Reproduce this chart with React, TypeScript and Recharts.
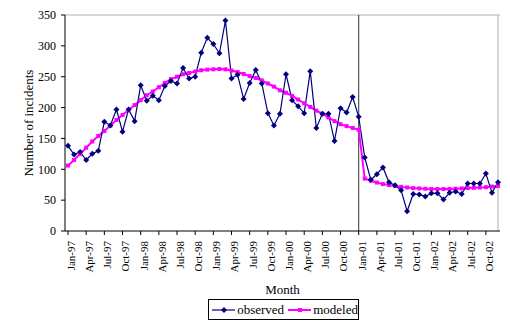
import React from 'react';
import {
  LineChart,
  Line,
  XAxis,
  YAxis,
  ReferenceLine,
} from 'recharts';

const MONTHS = ['Jan', 'Feb', 'Mar', 'Apr', 'May', 'Jun', 'Jul', 'Aug', 'Sep', 'Oct', 'Nov', 'Dec'];
const YEARS = ['97', '98', '99', '00', '01', '02'];

// monthly counts, Jan-97 .. Dec-02
const observed = [
  138, 124, 128, 115, 125, 130, 177, 171, 197, 161, 197, 178,
  236, 211, 219, 212, 235, 243, 239, 264, 247, 250, 289, 313,
  303, 288, 341, 247, 253, 214, 240, 261, 239, 191, 171, 190,
  254, 212, 202, 191, 259, 167, 190, 190, 146, 199, 192, 217,
  185, 119, 83, 92, 103, 79, 74, 66, 32, 60, 59, 56,
  61, 61, 51, 62, 64, 60, 77, 77, 77, 93, 62, 79,
];

const modeled = [
  106, 115, 125, 135, 145, 154, 162, 171, 180, 188, 196, 204,
  212, 220, 226, 233, 240, 246, 250, 254, 256, 258.5, 260.5, 261.5,
  262, 262.5, 262, 260, 257.5, 254.5, 251, 248, 244, 239, 234, 228,
  224, 219, 213, 207, 201, 195, 190, 184, 178, 173, 170, 167,
  164, 85, 81.5, 78.5, 76, 74.5, 73, 71.5, 70.5, 69.5, 69, 68.5,
  68, 68, 68, 68, 68.5, 69, 69.5, 70, 70.5, 71, 72, 73,
];

const Y_TICKS = [0, 50, 100, 150, 200, 250, 300, 350];
const INTERVENTION = 'Jan-01';

const monthLabels = YEARS.flatMap((y) => MONTHS.map((m) => `${m}-${y}`));

const data = monthLabels.map((month, i) => ({
  month,
  observed: observed[i],
  modeled: modeled[i],
}));

const FONT = '"Liberation Serif", "DejaVu Serif", serif';
const NAVY = '#000080';
const MAGENTA = '#ff00ff';

const Diamond = (props: any) => {
  const { cx, cy, index } = props;
  if (cx == null || cy == null) return null;
  const r = 3;
  return (
    <path
      key={`d-${index}`}
      d={`M${cx},${cy - r}L${cx + r},${cy}L${cx},${cy + r}L${cx - r},${cy}Z`}
      fill={NAVY}
    />
  );
};

const Square = (props: any) => {
  const { cx, cy, index } = props;
  if (cx == null || cy == null) return null;
  return <rect key={`s-${index}`} x={cx - 2} y={cy - 2} width={4} height={4} fill={MAGENTA} />;
};

// rotated month labels, a little right of the tick like the original
const MonthTick = (props: any) => {
  const { x, y, payload } = props;
  const tx = x + 3;
  const ty = y + 4;
  return (
    <text
      x={tx}
      y={ty}
      transform={`rotate(-90, ${tx}, ${ty})`}
      textAnchor="end"
      dy="0.35em"
      fontSize={11}
      fontFamily={FONT}
      fill="#000"
    >
      {payload.value}
    </text>
  );
};

export default function App() {
  return (
    <div style={{ position: 'absolute', left: 0, top: 0, width: 510, height: 330, background: '#fff' }}>
      <LineChart
        width={510}
        height={330}
        data={data}
        margin={{ top: 15, right: 10, left: 0, bottom: 0 }}
      >
        <XAxis
          dataKey="month"
          interval={2}
          height={99}
          padding={{ left: 3, right: 2 }}
          tick={<MonthTick />}
          tickSize={4}
          axisLine={{ stroke: '#000' }}
          tickLine={{ stroke: '#000' }}
          label={{
            value: 'Month',
            position: 'insideBottom',
            offset: 36,
            style: { fontSize: 13, fontFamily: FONT, fill: '#000' },
          }}
        />
        <YAxis
          domain={[0, 350]}
          ticks={Y_TICKS}
          width={65}
          tickSize={4}
          tickMargin={5}
          axisLine={{ stroke: '#000' }}
          tickLine={{ stroke: '#000' }}
          tick={{ fontSize: 12, fontFamily: FONT, fill: '#000' }}
          label={{
            value: 'Number of incidents',
            angle: -90,
            position: 'insideLeft',
            offset: 28,
            style: { textAnchor: 'middle', fontSize: 13, fontFamily: FONT, fill: '#000' },
          }}
        />
        <ReferenceLine y={350} stroke="#b0b0b0" />
        <ReferenceLine x="Dec-02" stroke="#b0b0b0" />
        <ReferenceLine x={INTERVENTION} stroke="#333" strokeWidth={1} />
        <Line
          dataKey="modeled"
          stroke={MAGENTA}
          strokeWidth={2}
          dot={<Square />}
          activeDot={false}
          isAnimationActive={false}
        />
        <Line
          dataKey="observed"
          stroke={NAVY}
          strokeWidth={1.2}
          dot={<Diamond />}
          activeDot={false}
          isAnimationActive={false}
        />
      </LineChart>
      <div
        style={{
          position: 'absolute',
          left: 208,
          top: 299,
          width: 151,
          height: 21,
          border: '1px solid #000',
          display: 'flex',
          alignItems: 'center',
          fontFamily: FONT,
          fontSize: 13,
          boxSizing: 'border-box',
        }}
      >
        <svg width={26} height={10} style={{ marginLeft: 3 }}>
          <line x1={0} y1={5} x2={24} y2={5} stroke={NAVY} strokeWidth={1.2} />
          <path d="M12,2L15,5L12,8L9,5Z" fill={NAVY} />
        </svg>
        <span style={{ marginLeft: 2 }}>observed</span>
        <svg width={26} height={10} style={{ marginLeft: 4 }}>
          <line x1={0} y1={5} x2={24} y2={5} stroke={MAGENTA} strokeWidth={2} />
          <rect x={10} y={3} width={4} height={4} fill={MAGENTA} />
        </svg>
        <span style={{ marginLeft: 2 }}>modeled</span>
      </div>
    </div>
  );
}
